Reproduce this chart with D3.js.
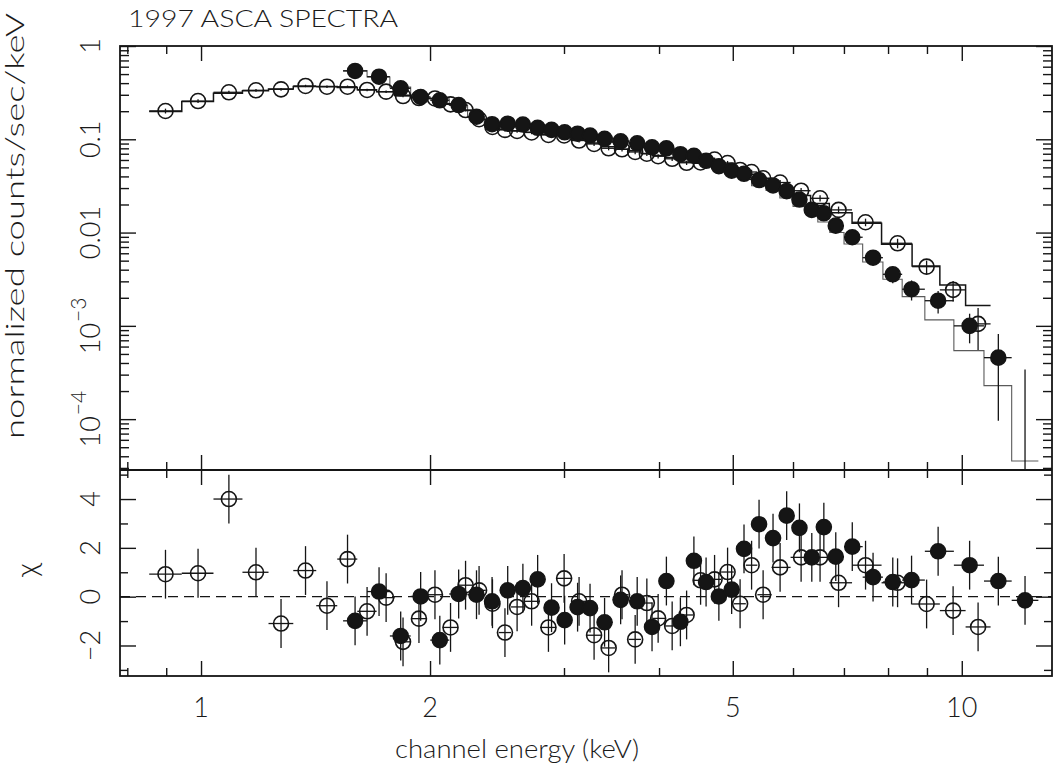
<!DOCTYPE html>
<html>
<head>
<meta charset="utf-8">
<script src="https://cdn.jsdelivr.net/npm/d3@7"></script>
<style>
  body { margin: 0; background: #fff; }
  text { font-family: Lato, "DejaVu Sans", sans-serif; font-weight: 300; fill: #1a1a1a; }
</style>
</head>
<body>
<div id="chart"></div>
<script>
/*------------------ data ------------------*/

// open circles (SIS-like spectrum)
var openEnergy = [0.898, 0.991, 1.088, 1.181, 1.274, 1.372, 1.464, 1.558, 1.653, 1.751,
    1.843, 1.934, 2.030, 2.128, 2.227, 2.320, 2.416, 2.509, 2.603, 2.720,
    2.862, 3.001, 3.140, 3.286, 3.434, 3.576, 3.721, 3.855, 3.989, 4.162,
    4.348, 4.536, 4.732, 4.922, 5.112, 5.293, 5.481, 5.770, 6.149, 6.512,
    6.887, 7.473, 8.234, 8.990, 9.741, 10.506];
var openRate = [0.201, 0.257, 0.319, 0.335, 0.343, 0.373, 0.366, 0.366, 0.338, 0.324,
    0.291, 0.277, 0.274, 0.237, 0.206, 0.164, 0.1355, 0.126, 0.1228, 0.1183,
    0.1112, 0.1098, 0.097, 0.0891, 0.0801, 0.0781, 0.0731, 0.070, 0.0658, 0.0618,
    0.056, 0.0564, 0.0607, 0.0557, 0.0469, 0.0446, 0.0382, 0.0344, 0.0281, 0.0233,
    0.0175, 0.0129, 0.00768, 0.00431, 0.00243, 0.00105];
var openErr = [0.012, 0.012, 0.012, 0.012, 0.011, 0.011, 0.011, 0.011, 0.010, 0.010,
    0.009, 0.009, 0.009, 0.008, 0.007, 0.006, 0.005, 0.005, 0.005, 0.005,
    0.005, 0.0045, 0.0045, 0.0042, 0.004, 0.004, 0.0038, 0.0036, 0.0034, 0.0032,
    0.003, 0.003, 0.003, 0.0029, 0.0027, 0.0026, 0.0024, 0.0022, 0.002, 0.0018,
    0.0015, 0.0012, 0.0009, 0.0007, 0.0006, 0.0005];
var openModel = [0.199, 0.254, 0.311, 0.331, 0.347, 0.369, 0.367, 0.360, 0.340, 0.324,
    0.297, 0.280, 0.273, 0.241, 0.204, 0.163, 0.1362, 0.1285, 0.1235, 0.1187,
    0.1132, 0.1088, 0.0974, 0.0915, 0.0830, 0.0780, 0.0752, 0.0705, 0.0670, 0.0638,
    0.0570, 0.0552, 0.0590, 0.0540, 0.0475, 0.0423, 0.0380, 0.0320, 0.0250, 0.0205,
    0.0163, 0.0126, 0.0075, 0.00438, 0.00274, 0.00165];
var openChi = [0.92, 0.96, 4.0, 1.0, -1.1, 1.07, -0.37, 1.54, -0.6, -0.04,
    -1.85, -0.9, 0.08, -1.26, 0.47, 0.26, -0.29, -1.47, -0.42, -0.19,
    -1.26, 0.75, -0.19, -1.58, -2.1, 0.08, -1.75, -0.26, -0.89, -1.2,
    -0.75, 0.67, 0.71, 1.01, -0.29, 1.29, 0.08, 1.2, 1.61, 1.61,
    0.57, 1.29, 0.57, -0.3, -0.57, -1.24];

// filled circles (GIS-like spectrum)
var fillEnergy = [1.594, 1.714, 1.830, 1.944, 2.060, 2.181, 2.302, 2.413, 2.530, 2.649,
    2.770, 2.889, 3.006, 3.126, 3.246, 3.392, 3.561, 3.744, 3.916, 4.090,
    4.267, 4.445, 4.612, 4.794, 4.983, 5.173, 5.414, 5.648, 5.886, 6.118,
    6.351, 6.587, 6.829, 7.179, 7.645, 8.115, 8.590, 9.309, 10.24, 11.17, 12.11];
var fillRate = [0.540, 0.469, 0.352, 0.284, 0.262, 0.233, 0.1747, 0.145, 0.147, 0.144,
    0.1328, 0.126, 0.1189, 0.1148, 0.1098, 0.1012, 0.0952, 0.0906, 0.0821, 0.080,
    0.0692, 0.0666, 0.0588, 0.0514, 0.046, 0.0427, 0.0366, 0.032, 0.0278, 0.0226,
    0.0175, 0.0161, 0.01186, 0.00891, 0.00538, 0.00357, 0.00247, 0.00186, 0.001, 0.000456, 0.00001];
var fillErr = [0.02, 0.018, 0.012, 0.011, 0.01, 0.009, 0.008, 0.007, 0.007, 0.006,
    0.006, 0.006, 0.0055, 0.0052, 0.005, 0.0048, 0.0046, 0.0044, 0.0042, 0.004,
    0.0038, 0.0036, 0.0034, 0.0032, 0.003, 0.0028, 0.0026, 0.0024, 0.0022, 0.002,
    0.0018, 0.0016, 0.0014, 0.0012, 0.0009, 0.0007, 0.0006, 0.0005, 0.00035, 0.00036, 0.00033];
var fillModel = [0.545, 0.466, 0.362, 0.284, 0.272, 0.232, 0.1742, 0.1458, 0.1455, 0.1415,
    0.1295, 0.1278, 0.1228, 0.1165, 0.1115, 0.1048, 0.0957, 0.0913, 0.0848, 0.0785,
    0.0720, 0.0625, 0.0572, 0.0514, 0.0452, 0.0390, 0.0318, 0.0282, 0.0235, 0.0190,
    0.0158, 0.0130, 0.0100, 0.00755, 0.00484, 0.00316, 0.00206, 0.00116, 0.000542, 0.000229, 0.0000356];
var fillChi = [-0.99, 0.21, -1.61, 0.01, -1.78, 0.11, 0.08, -0.19, 0.26, 0.35,
    0.71, -0.45, -0.96, -0.43, -0.47, -1.05, -0.13, -0.19, -1.24, 0.64,
    -1.03, 1.47, 0.6, 0.01, 0.29, 1.96, 2.97, 2.4, 3.32, 2.82,
    1.61, 2.85, 1.64, 2.05, 0.8, 0.6, 0.68, 1.86, 1.29, 0.64, -0.15];

// ticks and labels
var xMajor = [1, 2, 5, 10];
var xMinor = [0.8, 0.9, 3, 4, 6, 7, 8, 9];
var xLabels = ["1", "2", "5", "10"];
var rateMajor = [1, 0.1, 0.01, 1e-3, 1e-4];
var rateLabels = [["1"], ["0.1"], ["0.01"], ["10", "\u22123"], ["10", "\u22124"]];
var chiMajor = [4, 2, 0, -2];
var chiMinor = [5, 3, 1, -1, -3];
var chiLabels = ["4", "2", "0", "\u22122"];

/*------------------------------ layout --------------------------------*/

var W = 1054, H = 764;
var padL = 120, padR = 1052, padT = 46, padM = 470, padB = 676;
var ink = "#151515";

var svg = d3.select("#chart").append("svg")
    .attr("width", W)
    .attr("height", H);

var x = d3.scaleLog().domain([0.7825, 13.14]).range([padL, padR]);
var y = d3.scaleLog().domain([2.85e-5, 1]).range([padM, padT]);
var yc = d3.scaleLinear().domain([-3.25, 5.19]).range([padB, padM]);

var defs = svg.append("defs");
defs.append("clipPath").attr("id", "clipTop").append("rect")
    .attr("x", padL).attr("y", padT).attr("width", padR - padL).attr("height", padM - padT);
defs.append("clipPath").attr("id", "clipBot").append("rect")
    .attr("x", padL).attr("y", padM).attr("width", padR - padL).attr("height", padB - padM);

function makeSeries(E, rate, err, model, chi) {
    var mids = d3.pairs(E, (a, b) => Math.sqrt(a * b));
    var lo = [E[0] * E[0] / mids[0]].concat(mids);
    var hi = mids.concat([E[E.length - 1] * E[E.length - 1] / mids[mids.length - 1]]);
    return E.map((e, i) => ({e: e, lo: lo[i], hi: hi[i], v: rate[i], err: err[i], m: model[i], chi: chi[i]}));
}

var openData = makeSeries(openEnergy, openRate, openErr, openModel, openChi);
var fillData = makeSeries(fillEnergy, fillRate, fillErr, fillModel, fillChi);

/*---------------------------- upper panel -----------------------------*/

var gTop = svg.append("g").attr("clip-path", "url(#clipTop)");
var stepLine = d3.line().x(d => x(d[0])).y(d => y(d[1]));

function drawModel(data, color, width) {
    var pts = data.flatMap(d => [[d.lo, d.m], [d.hi, d.m]]);
    gTop.append("path")
        .attr("d", stepLine(pts))
        .attr("fill", "none")
        .attr("stroke", color)
        .attr("stroke-width", width);
}
drawModel(fillData, "#5a5a5a", 1.1);
drawModel(openData, ink, 1.5);

function drawUpper(data, filled) {
    var g = gTop.append("g").attr("stroke", ink).attr("stroke-width", 1.3);
    g.selectAll(".v").data(data).enter().append("line")
        .attr("x1", d => x(d.e)).attr("x2", d => x(d.e))
        .attr("y1", d => y(Math.max(d.v - d.err, 1e-6)))
        .attr("y2", d => y(d.v + d.err));
    g.selectAll(".h").data(data).enter().append("line")
        .attr("x1", d => x(d.lo)).attr("x2", d => x(d.hi))
        .attr("y1", d => y(d.v)).attr("y2", d => y(d.v));
    g.selectAll("circle").data(data).enter().append("circle")
        .attr("cx", d => x(d.e))
        .attr("cy", d => y(d.v))
        .attr("r", 7.5)
        .attr("fill", filled ? ink : "none")
        .attr("stroke-width", 1.6);
}
drawUpper(openData, false);
drawUpper(fillData, true);

/*---------------------------- lower panel -----------------------------*/

var gBot = svg.append("g").attr("clip-path", "url(#clipBot)");

gBot.append("line")
    .attr("x1", padL).attr("x2", padR)
    .attr("y1", yc(0)).attr("y2", yc(0))
    .attr("stroke", ink)
    .attr("stroke-width", 1.3)
    .attr("stroke-dasharray", "10,6");

function drawLower(data, filled) {
    var g = gBot.append("g").attr("stroke", ink).attr("stroke-width", 1.3);
    g.selectAll(".v").data(data).enter().append("line")
        .attr("x1", d => x(d.e)).attr("x2", d => x(d.e))
        .attr("y1", d => yc(d.chi - 1)).attr("y2", d => yc(d.chi + 1));
    g.selectAll(".h").data(data).enter().append("line")
        .attr("x1", d => x(d.lo)).attr("x2", d => x(d.hi))
        .attr("y1", d => yc(d.chi)).attr("y2", d => yc(d.chi));
    g.selectAll("circle").data(data).enter().append("circle")
        .attr("cx", d => x(d.e))
        .attr("cy", d => yc(d.chi))
        .attr("r", 7.5)
        .attr("fill", filled ? ink : "none")
        .attr("stroke-width", 1.6);
}
drawLower(openData, false);
drawLower(fillData, true);

/*------------------------------- axes ---------------------------------*/

function tickAxis(axis, tx, ty) {
    var g = svg.append("g")
        .attr("transform", "translate(" + tx + "," + ty + ")")
        .call(axis);
    g.select(".domain").remove();
    g.selectAll("line").attr("stroke", ink).attr("stroke-width", 1.4);
    g.selectAll("text").remove();
}

// x ticks, inward on both panels
[[d3.axisBottom, padT], [d3.axisTop, padM], [d3.axisBottom, padM], [d3.axisTop, padB]].forEach(function(p) {
    tickAxis(p[0](x).tickValues(xMajor).tickSize(15), 0, p[1]);
    tickAxis(p[0](x).tickValues(xMinor).tickSize(8), 0, p[1]);
});

// y ticks, upper panel
var rateMinor = [];
for (var dec = -5; dec <= -1; dec++) {
    for (var k = 2; k <= 9; k++) {
        var t = k * Math.pow(10, dec);
        if (t > y.domain()[0] && t < 1) rateMinor.push(t);
    }
}
tickAxis(d3.axisRight(y).tickValues(rateMajor).tickSize(16), padL, 0);
tickAxis(d3.axisRight(y).tickValues(rateMinor).tickSize(9), padL, 0);
tickAxis(d3.axisLeft(y).tickValues(rateMajor).tickSize(16), padR, 0);
tickAxis(d3.axisLeft(y).tickValues(rateMinor).tickSize(9), padR, 0);

// y ticks, lower panel
tickAxis(d3.axisRight(yc).tickValues(chiMajor).tickSize(16), padL, 0);
tickAxis(d3.axisRight(yc).tickValues(chiMinor).tickSize(8), padL, 0);
tickAxis(d3.axisLeft(yc).tickValues(chiMajor).tickSize(16), padR, 0);
tickAxis(d3.axisLeft(yc).tickValues(chiMinor).tickSize(8), padR, 0);

// frame
svg.append("rect")
    .attr("x", padL).attr("y", padT)
    .attr("width", padR - padL).attr("height", padB - padT)
    .attr("fill", "none").attr("stroke", ink).attr("stroke-width", 1.8);
svg.append("line")
    .attr("x1", padL).attr("x2", padR).attr("y1", padM).attr("y2", padM)
    .attr("stroke", ink).attr("stroke-width", 1.8);

/*------------------------------- labels -------------------------------*/

xMajor.forEach(function(v, i) {
    svg.append("text")
        .attr("x", x(v)).attr("y", 717)
        .attr("text-anchor", "middle")
        .style("font-size", "27px")
        .text(xLabels[i]);
});

rateMajor.forEach(function(v, i) {
    var t = svg.append("text")
        .attr("transform", "translate(100," + y(v) + ") rotate(-90)")
        .attr("text-anchor", "middle")
        .style("font-size", "27px");
    t.append("tspan").text(rateLabels[i][0]);
    if (rateLabels[i].length > 1) {
        t.append("tspan").attr("dx", 1).attr("dy", -14).style("font-size", "21px").text(rateLabels[i][1]);
    }
});

chiMajor.forEach(function(v, i) {
    svg.append("text")
        .attr("transform", "translate(100," + yc(v) + ") rotate(-90)")
        .attr("text-anchor", "middle")
        .style("font-size", "27px")
        .text(chiLabels[i]);
});

svg.append("text")
    .attr("transform", "translate(37,570) rotate(-90)")
    .attr("text-anchor", "middle")
    .style("font-size", "30px")
    .text("\u03c7");

svg.append("text")
    .attr("transform", "translate(24,226) rotate(-90)")
    .attr("text-anchor", "middle")
    .attr("textLength", 426)
    .attr("lengthAdjust", "spacingAndGlyphs")
    .style("font-size", "25px")
    .text("normalized counts/sec/keV");

svg.append("text")
    .attr("x", 517).attr("y", 758)
    .attr("text-anchor", "middle")
    .attr("textLength", 244)
    .attr("lengthAdjust", "spacingAndGlyphs")
    .style("font-size", "25px")
    .text("channel energy (keV)");

svg.append("text")
    .attr("x", 128).attr("y", 27)
    .attr("textLength", 270)
    .attr("lengthAdjust", "spacingAndGlyphs")
    .style("font-size", "23px")
    .text("1997 ASCA SPECTRA");
</script>
</body>
</html>
